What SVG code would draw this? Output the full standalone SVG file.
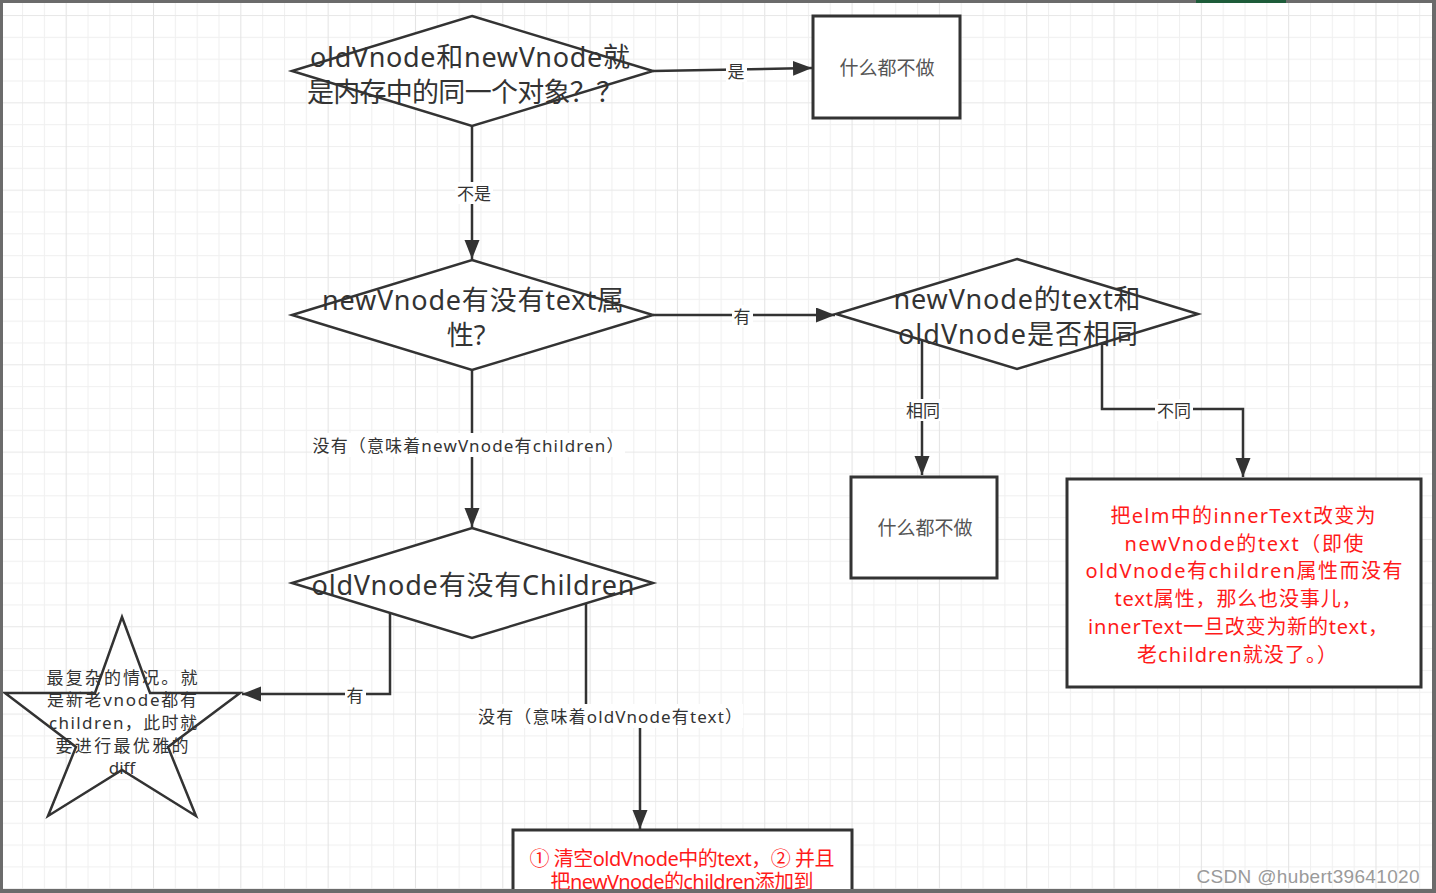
<svg xmlns="http://www.w3.org/2000/svg" width="1436" height="893" viewBox="0 0 1436 893">
<style>
.shape{fill:#fff;stroke:#333;stroke-width:2.5}
.box{fill:#fff;stroke:#333;stroke-width:3}
.conn{fill:none;stroke:#333;stroke-width:2.5}
.t{font-family:"Noto Sans","Noto Sans CJK SC",sans-serif;fill:#333;text-anchor:middle;dominant-baseline:central}
.big{font-size:27px}
.lbl{font-size:17px}
.gray{fill:#555;font-size:19px}
.red{fill:#ff1a1a;font-size:20px}
.star{font-size:17px}
.lb{fill:#fff}
</style>
<defs>
<pattern id="grid" patternUnits="userSpaceOnUse" x="153" y="15" width="87.32" height="87.32">
<rect x="0" y="0" width="87.32" height="87.32" fill="#fff"/>
<rect x="21.83" y="0" width="1" height="87.32" fill="#f0f0f0"/>
<rect x="43.66" y="0" width="1" height="87.32" fill="#f0f0f0"/>
<rect x="65.49" y="0" width="1" height="87.32" fill="#f0f0f0"/>
<rect x="0" y="21.83" width="87.32" height="1" fill="#f0f0f0"/>
<rect x="0" y="43.66" width="87.32" height="1" fill="#f0f0f0"/>
<rect x="0" y="65.49" width="87.32" height="1" fill="#f0f0f0"/>
<rect x="0" y="0" width="1" height="87.32" fill="#e3e3e3"/>
<rect x="0" y="0" width="87.32" height="1" fill="#e8e8e8"/>
</pattern>
<marker id="arr" markerUnits="userSpaceOnUse" markerWidth="22" markerHeight="16" refX="19" refY="7.5" orient="auto">
<path d="M0,0 L19,7.5 L0,15 z" fill="#333"/>
</marker>
</defs>
<rect x="0" y="0" width="1436" height="893" fill="url(#grid)"/>

<g id="connectors">
<path class="conn" d="M653,71 L812,68" marker-end="url(#arr)"/>
<path class="conn" d="M472,126 L472,259" marker-end="url(#arr)"/>
<path class="conn" d="M653,315 L835,315" marker-end="url(#arr)"/>
<path class="conn" d="M922,340 L922,475" marker-end="url(#arr)"/>
<path class="conn" d="M1102,343 L1102,409 L1243,409 L1243,477" marker-end="url(#arr)"/>
<path class="conn" d="M472,370 L472,527" marker-end="url(#arr)"/>
<path class="conn" d="M390,613 L390,694 L242,694" marker-end="url(#arr)"/>
<path class="conn" d="M586,604 L586,716 L640,716 L640,829" marker-end="url(#arr)"/>
<rect class="lb" x="726" y="60" width="21" height="22"/>
<text class="t lbl" x="736" y="71">是</text>
<rect class="lb" x="455" y="182" width="38" height="22"/>
<text class="t lbl" x="474" y="193">不是</text>
<rect class="lb" x="732" y="305" width="21" height="22"/>
<text class="t lbl" x="742" y="316">有</text>
<rect class="lb" x="904" y="399" width="38" height="22"/>
<text class="t lbl" x="923" y="410">相同</text>
<rect class="lb" x="1155" y="399" width="38" height="22"/>
<text class="t lbl" x="1174" y="410">不同</text>
<rect class="lb" x="312" y="433" width="313" height="24"/>
<text class="t lbl" x="468" y="445" textLength="311" lengthAdjust="spacing">没有（意味着newVnode有children）</text>
<rect class="lb" x="345" y="684" width="21" height="22"/>
<text class="t lbl" x="355" y="695">有</text>
<rect class="lb" x="477" y="704" width="266" height="24"/>
<text class="t lbl" x="610" y="716" textLength="264" lengthAdjust="spacing">没有（意味着oldVnode有text）</text>
</g>

<g id="d1">
<polygon class="shape" points="472,16 653,71 472,126 292,71"/>
<text class="t big" x="470" y="56" textLength="320" lengthAdjust="spacing">oldVnode和newVnode就</text>
<text class="t big" x="465" y="91" textLength="316" lengthAdjust="spacing">是内存中的同一个对象？？</text>
</g>

<g id="box1">
<rect class="box" x="813" y="16" width="147" height="102"/>
<text class="t gray" x="887" y="68">什么都不做</text>
</g>

<g id="d2">
<polygon class="shape" points="472,260 653,315 472,370 292,315"/>
<text class="t big" x="473" y="299" textLength="302" lengthAdjust="spacing">newVnode有没有text属</text>
<text class="t big" x="466" y="334">性?</text>
</g>

<g id="d3">
<polygon class="shape" points="1017,259 1198,314 1017,369 836,314"/>
<text class="t big" x="1017" y="298" textLength="247" lengthAdjust="spacing">newVnode的text和</text>
<text class="t big" x="1018" y="333" textLength="240" lengthAdjust="spacing">oldVnode是否相同</text>
</g>

<g id="box2">
<rect class="box" x="851" y="477" width="146" height="101"/>
<text class="t gray" x="925" y="528">什么都不做</text>
</g>

<g id="box3">
<rect class="box" x="1067" y="479" width="354" height="208"/>
<text class="t red" x="1243" y="515" textLength="265" lengthAdjust="spacing">把elm中的innerText改变为</text>
<text class="t red" x="1244" y="543" textLength="239" lengthAdjust="spacing">newVnode的text（即使</text>
<text class="t red" x="1244" y="570" textLength="317" lengthAdjust="spacing">oldVnode有children属性而没有</text>
<text class="t red" x="1238" y="598" textLength="247" lengthAdjust="spacing">text属性，那么也没事儿，</text>
<text class="t red" x="1238" y="626" textLength="300" lengthAdjust="spacing">innerText一旦改变为新的text，</text>
<text class="t red" x="1237" y="654" textLength="200" lengthAdjust="spacing">老children就没了。）</text>
</g>

<g id="d4">
<polygon class="shape" points="472,528 653,583 472,638 292,583"/>
<text class="t big" x="473" y="584" textLength="323" lengthAdjust="spacing">oldVnode有没有Children</text>
</g>

<g id="star">
<polygon class="shape" points="122,617 150,693 240,693 168,747 196,816 122,770 48,816 76,747 5,693 95,693"/>
<text class="t star" x="122" y="677" textLength="151" lengthAdjust="spacing">最复杂的情况。就</text>
<text class="t star" x="122" y="699" textLength="150" lengthAdjust="spacing">是新老vnode都有</text>
<text class="t star" x="123" y="722" textLength="148" lengthAdjust="spacing">children，此时就</text>
<text class="t star" x="122" y="745" textLength="133" lengthAdjust="spacing">要进行最优雅的</text>
<text class="t star" x="122" y="767">diff</text>
</g>

<g id="box4">
<rect class="box" x="513" y="830" width="339" height="75"/>
<text class="t red" x="682" y="858" font-size="17" textLength="305" lengthAdjust="spacing">① 清空oldVnode中的text，② 并且</text>
<text class="t red" x="682" y="881" font-size="17" textLength="263" lengthAdjust="spacing">把newVnode的children添加到</text>
</g>

<g id="frame">
<rect x="0" y="0" width="1436" height="3" fill="#6b6b6b"/>
<rect x="0" y="0" width="3" height="893" fill="#6b6b6b"/>
<rect x="1432" y="0" width="4" height="893" fill="#6b6b6b"/>
<rect x="0" y="889" width="1436" height="4" fill="#6b6b6b"/>
<rect x="1196" y="0" width="90" height="3" fill="#1e5c3a"/>
</g>
<text x="1308" y="876" font-family="'Liberation Sans',Arial,sans-serif" font-size="19" fill="#9a9a9a" stroke="#fff" stroke-width="0.6" paint-order="stroke" text-anchor="middle" dominant-baseline="central" textLength="223" lengthAdjust="spacing">CSDN @hubert39641020</text>
</svg>
